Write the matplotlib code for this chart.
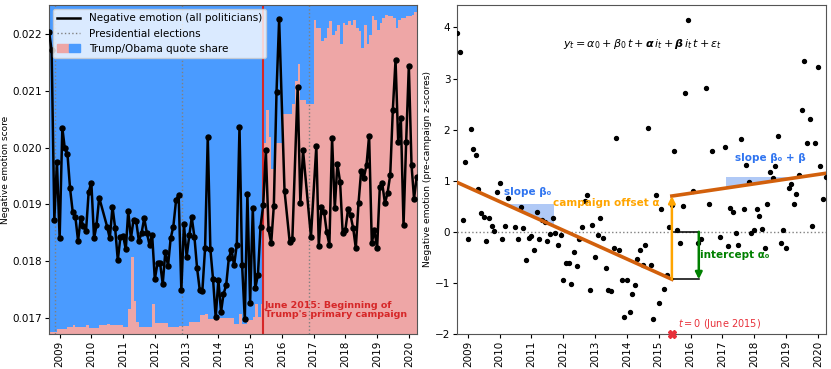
import numpy as np
import pandas as pd
import matplotlib
matplotlib.use('Agg')
import matplotlib.pyplot as plt
import matplotlib.dates as mdates
from matplotlib.lines import Line2D
from matplotlib.patches import Patch
from matplotlib.legend_handler import HandlerTuple

# monthly negative emotion score, Sep 2008 .. Apr 2020 (None = no data that month)
neg_emotion = [
    0.02204, 0.02171, 0.01873, 0.01975, 0.01840, 0.02035, 0.01999, 0.01989, 0.01928, 0.01886,
    0.01878, 0.01836, 0.01876, 0.01862, 0.01854, 0.01922, 0.01938, 0.01840, 0.01863, 0.01912,
    None, None, 0.01861, 0.01840, 0.01896, 0.01859, 0.01802, 0.01842, 0.01845, 0.01821,
    0.01888, 0.01840, 0.01873, 0.01870, 0.01836, 0.01849, 0.01876, 0.01850, 0.01829, 0.01847,
    0.01768, 0.01797, 0.01797, 0.01760, 0.01817, 0.01792, 0.01840, 0.01861, 0.01907, 0.01917,
    0.01749, 0.01865, 0.01808, 0.01846, 0.01877, 0.01842, 0.01788, 0.01749, 0.01748, 0.01823,
    0.02019, 0.01821, 0.01768, 0.01701, 0.01767, 0.01711, 0.01742, 0.01758, 0.01805, 0.01820,
    0.01793, 0.01829, 0.02036, 0.01793, 0.01698, 0.01918, 0.01726, 0.01893, 0.01752, 0.01776,
    0.01861, 0.01899, 0.01995, 0.01856, 0.01832, 0.01898, 0.02098, 0.02226, None, 0.01924,
    None, 0.01833, 0.01839, None, 0.02106, 0.01902, 0.01995, None, None, 0.01843,
    None, 0.02003, 0.01827, 0.01895, 0.01887, 0.01851, 0.01829, 0.02017, 0.01893, 0.01971,
    0.01940, 0.01850, 0.01855, 0.01892, 0.01881, 0.01858, 0.01823, 0.01902, 0.01958, 0.01947,
    0.01969, 0.02021, 0.01832, 0.01855, 0.01823, 0.01930, 0.01937, 0.01902, 0.01920, 0.01952,
    0.02067, 0.02154, 0.02009, 0.02052, 0.01863, 0.02009, 0.02144, 0.01969, 0.01910, 0.01949,
]

# Trump share of Trump+Obama quotes per month (rest is Obama)
trump_share = [
    0.007, 0.007, 0.007, 0.014, 0.014, 0.014, 0.014, 0.022, 0.022, 0.027,
    0.022, 0.022, 0.022, 0.022, 0.027, 0.017, 0.017, 0.017, 0.017, 0.027,
    0.027, 0.027, 0.030, 0.027, 0.027, 0.027, 0.027, 0.027, 0.022, 0.022,
    0.075, 0.233, 0.100, 0.037, 0.022, 0.022, 0.022, 0.022, 0.022, 0.091,
    0.032, 0.032, 0.034, 0.034, 0.034, 0.022, 0.022, 0.022, 0.022, 0.024,
    0.024, 0.024, 0.024, 0.037, 0.037, 0.037, 0.037, 0.058, 0.058, 0.060,
    0.045, 0.045, 0.045, 0.047, 0.047, 0.048, 0.048, 0.048, 0.048, 0.048,
    0.030, 0.030, 0.060, 0.030, 0.030, 0.043, 0.043, 0.050, 0.090, 0.050,
    0.090, 0.580, 0.680, 0.600, 0.500, 0.580, 0.580, 0.580, 0.670, 0.670,
    0.670, 0.670, 0.700, 0.770, 0.820, 0.710, 0.710, 0.700, 0.700, 0.700,
    0.955, 0.930, 0.930, 0.890, 0.900, 0.930, 0.950, 0.910, 0.920, 0.940,
    0.880, 0.945, 0.940, 0.950, 0.940, 0.955, 0.930, 0.920, 0.870, 0.940,
    0.880, 0.910, 0.965, 0.955, 0.925, 0.945, 0.960, 0.970, 0.965, 0.965,
    0.960, 0.930, 0.955, 0.960, 0.960, 0.965, 0.965, 0.970, 0.980, 0.980,
]

dates = pd.date_range('2008-09-01', periods=len(neg_emotion), freq='MS')
elections = pd.to_datetime(['2008-11-04', '2012-11-06', '2016-11-08'])
campaign_start = pd.Timestamp('2015-06-01')

# regression parameters (t in years since June 2015)
alpha0 = -0.93
beta0 = -0.281
alpha = 1.63
beta = 0.373

series = pd.Series(neg_emotion, index=dates, dtype=float)
pre = series[series.index < campaign_start].dropna()
zscores = ((series - pre.mean()) / pre.std()).dropna()
series = series.dropna()

pink = '#eea6a6'
blue = '#4a9bff'
red = '#d62728'

fig = plt.figure(figsize=(8.31, 3.69), dpi=100)
ax1 = fig.add_axes([0.059, 0.095, 0.4425, 0.8915])
ax2 = fig.add_axes([0.5503, 0.095, 0.4433, 0.8915])

# ---- left panel ----
edges = list(dates) + [dates[-1] + pd.DateOffset(months=1)]
share = trump_share + [trump_share[-1]]
trans = ax1.get_xaxis_transform()
ax1.fill_between(edges, 0, share, step='post', color=pink, transform=trans, lw=0, zorder=0)
ax1.fill_between(edges, share, 1, step='post', color=blue, transform=trans, lw=0, zorder=0)

for d in elections:
    ax1.axvline(d, color='gray', ls=':', lw=1, zorder=1)
ax1.axvline(campaign_start, color=red, lw=1.5, zorder=2)
ax1.text(campaign_start + pd.Timedelta(days=20), 0.01714,
         "June 2015: Beginning of\nTrump's primary campaign",
         color=red, fontsize=6.8, fontweight='bold', va='center', ha='left',
         linespacing=1.0, zorder=3)

ax1.plot(series.index, series.values, color='black', lw=1.8, marker='o', ms=3.6, zorder=4)

ax1.set_xlim(dates[0], dates[-1])
ax1.set_ylim(0.01672, 0.02251)
ax1.set_yticks([0.017, 0.018, 0.019, 0.020, 0.021, 0.022])
ax1.yaxis.set_major_formatter(plt.FormatStrFormatter('%.3f'))
ax1.set_ylabel('Negative emotion score', fontsize=6.5, labelpad=2)

handles = [Line2D([], [], color='black', lw=1.8),
           Line2D([], [], color='gray', ls=':', lw=1),
           (Patch(color=pink), Patch(color=blue))]
labels = ['Negative emotion (all politicians)', 'Presidential elections', 'Trump/Obama quote share']
ax1.legend(handles, labels, loc='upper left', fontsize=7.5, framealpha=0.8,
           handler_map={tuple: HandlerTuple(ndivide=None, pad=0)},
           borderaxespad=0.4, handlelength=2.2)

# ---- right panel ----
ax2.axhline(0, color='gray', ls=':', lw=1, zorder=1)
ax2.scatter(zscores.index, zscores.values, s=8, color='black', zorder=3)


def years_since(d):
    return (pd.Timestamp(d) - campaign_start).days / 365.25


def fit(d):
    t = years_since(d)
    if pd.Timestamp(d) < campaign_start:
        return alpha0 + beta0 * t
    return alpha0 + alpha + (beta0 + beta) * t


fit_color = '#d2600c'
ax2.plot([dates[0], campaign_start], [fit(dates[0]), alpha0], color=fit_color, lw=2.6, zorder=4)
ax2.plot([campaign_start, dates[-1]], [alpha0 + alpha, fit(dates[-1])], color=fit_color, lw=2.6, zorder=4)

# slope triangles
tri_blue = '#6f9ef0'
label_blue = '#2f74f0'
x1, x2 = pd.Timestamp('2010-03-10'), pd.Timestamp('2011-09-20')
ax2.fill([x1, x2, x2], [fit(x1), fit(x1), fit(x2)], color=tri_blue, alpha=0.55, lw=0, zorder=2)
ax2.text(pd.Timestamp('2010-02-15'), 0.78, 'slope β₀', color=label_blue,
         fontsize=7.5, fontweight='bold', va='center', ha='left')
x1, x2 = pd.Timestamp('2017-02-10'), pd.Timestamp('2019-06-01')
ax2.fill([x1, x1, x2], [fit(x1), fit(x2), fit(x2)], color=tri_blue, alpha=0.55, lw=0, zorder=2)
ax2.text(pd.Timestamp('2018-07-01'), 1.44, 'slope β₀ + β', color=label_blue,
         fontsize=7.5, fontweight='bold', va='center', ha='center')

# campaign offset arrow
ax2.annotate('', xy=(campaign_start, alpha0 + alpha), xytext=(campaign_start, alpha0),
             arrowprops=dict(arrowstyle='-|>', color='orange', lw=1.8, mutation_scale=10,
                             shrinkA=0, shrinkB=0), zorder=5)
ax2.text(pd.Timestamp('2015-01-05'), 0.56, 'campaign offset α', color='orange',
         fontsize=7.5, fontweight='bold', va='center', ha='right')

# intercept bracket
x_int = pd.Timestamp('2016-04-05')
ax2.plot([campaign_start, x_int], [0, 0], color='black', lw=1.1, zorder=4)
ax2.plot([campaign_start, x_int], [alpha0, alpha0], color='black', lw=1.1, zorder=4)
ax2.annotate('', xy=(x_int, alpha0), xytext=(x_int, 0),
             arrowprops=dict(arrowstyle='-|>', color='green', lw=1.8, mutation_scale=10,
                             shrinkA=0, shrinkB=0), zorder=5)
ax2.text(pd.Timestamp('2016-04-20'), -0.46, 'intercept α₀', color='green',
         fontsize=7.5, fontweight='bold', va='center', ha='left')

# t = 0 marker
ax2.plot([campaign_start], [-2], marker='X', color='#e8303a', ms=6, clip_on=False, zorder=6)
ax2.text(pd.Timestamp('2015-08-10'), -1.8, '$t = 0$ (June 2015)', color='#e8303a',
         fontsize=7, va='center', ha='left')

ax2.text(pd.Timestamp('2014-07-01'), 3.68,
         r'$y_t = \boldsymbol{\alpha_0} + \boldsymbol{\beta_0}\, t + \boldsymbol{\alpha}\, i_t'
         r' + \boldsymbol{\beta}\, i_t\, t + \varepsilon_t$',
         fontsize=8, ha='center', va='center')

ax2.set_xlim(dates[0], dates[-1])
ax2.set_ylim(-2, 4.44)
ax2.set_yticks([-2, -1, 0, 1, 2, 3, 4])
ax2.set_ylabel('Negative emotion (pre-campaign z-scores)', fontsize=6.6, labelpad=2)

for ax in (ax1, ax2):
    ax.xaxis.set_major_locator(mdates.YearLocator())
    ax.xaxis.set_major_formatter(mdates.DateFormatter('%Y'))
    ax.tick_params(axis='x', labelrotation=90, labelsize=7.5, length=3, pad=2)
    ax.tick_params(axis='y', labelsize=7.5, length=3, pad=2)
    for sp in ax.spines.values():
        sp.set_color('#555555')

fig.savefig('out.png', dpi=100)
